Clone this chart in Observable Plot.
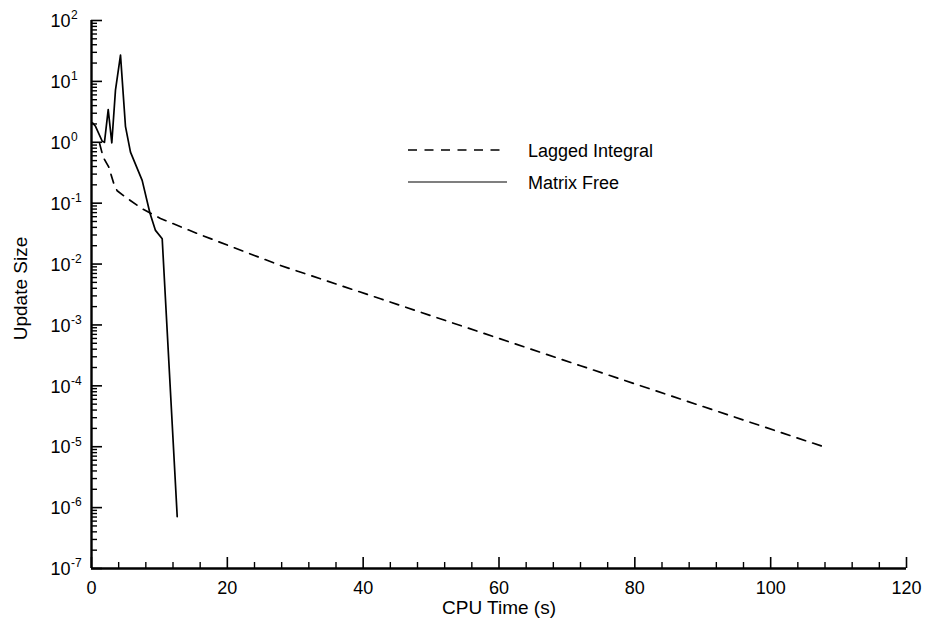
<!DOCTYPE html>
<html>
<head>
<meta charset="utf-8">
<script src="https://cdn.jsdelivr.net/npm/d3@7"></script>
<script src="https://cdn.jsdelivr.net/npm/@observablehq/plot@0.6"></script>
<style>
  html, body { margin: 0; padding: 0; background: #fff; }
  #chart { width: 926px; height: 625px; }
</style>
</head>
<body>
<div id="chart"></div>
<script>
// Convergence history: update size against CPU time for two solvers.
const lagTime = [1.2, 1.72, 2.55, 3.28, 3.78, 5.0, 7.46, 10.16, 13.35, 15.8, 27.8, 42.55, 72.0, 107.8];
const lagSize = [0.95, 0.57, 0.39, 0.21, 0.16, 0.126, 0.081, 0.056, 0.040, 0.031, 0.0095, 0.00269, 2.14e-4, 1.0e-5];

const mfTime = [0.15, 0.59, 1.58, 1.91, 2.46, 2.99, 3.53, 4.27, 5.0, 5.74, 7.46, 8.6, 9.42, 10.41, 12.62];
const mfSize = [2.08, 1.83, 1.04, 1.0, 3.43, 0.98, 7.2, 27, 1.83, 0.69, 0.237, 0.069, 0.0357, 0.026, 7.1e-7];

const seriesNames = ["Lagged Integral", "Matrix Free"];

// Axis ticks
const xMajor = [0, 20, 40, 60, 80, 100, 120];
const xMinor = d3.range(0, 121, 4).filter(v => v % 20 !== 0);
const yExponents = [-7, -6, -5, -4, -3, -2, -1, 0, 1, 2];
const yMajor = yExponents.map(e => Math.pow(10, e));
const yMinor = yExponents.slice(0, -1).flatMap(e => d3.range(2, 10).map(m => m * Math.pow(10, e)));

const lagged = lagTime.map((t, i) => ({t, v: lagSize[i]}));
const matrixFree = mfTime.map((t, i) => ({t, v: mfSize[i]}));

const W = 926, H = 625;
const mL = 91, mR = 20, mT = 20, mB = 57;
const innerW = W - mL - mR, innerH = H - mT - mB;
const font = "'Liberation Sans', Arial, Helvetica, sans-serif";

const chart = Plot.plot({
  width: W,
  height: H,
  marginLeft: mL,
  marginRight: mR,
  marginTop: mT,
  marginBottom: mB,
  style: {fontFamily: font, background: "#fff", color: "#000", overflow: "visible"},
  x: {domain: [0, 120], axis: null},
  y: {type: "log", domain: [1e-7, 1e2], axis: null},
  marks: [
    // inward-pointing ticks
    Plot.tickY(yMinor, {y: d => d, insetRight: innerW - 6, strokeWidth: 1.4}),
    Plot.tickY(yMajor, {y: d => d, insetRight: innerW - 11, strokeWidth: 1.6}),
    Plot.tickX(xMinor, {x: d => d, insetTop: innerH - 6, strokeWidth: 1.4}),
    Plot.tickX(xMajor, {x: d => d, insetTop: innerH - 11, strokeWidth: 1.6}),
    // axis lines
    Plot.ruleX([0], {strokeWidth: 2.4}),
    Plot.ruleY([1e-7], {strokeWidth: 2.4}),
    // x tick labels
    Plot.text(xMajor, {x: d => d, text: d => String(d), frameAnchor: "bottom", lineAnchor: "middle", dy: 20, fontSize: 18}),
    // y tick labels: 10 with a raised exponent
    Plot.text(yExponents, {y: e => Math.pow(10, e), text: () => "10", frameAnchor: "left", textAnchor: "end", lineAnchor: "middle", dx: -21, dy: 1, fontSize: 18}),
    Plot.text(yExponents, {y: e => Math.pow(10, e), text: e => String(e), frameAnchor: "left", textAnchor: "start", lineAnchor: "middle", dx: -20.5, dy: -5, fontSize: 12}),
    // axis titles
    Plot.text(["CPU Time (s)"], {frameAnchor: "bottom", textAnchor: "middle", lineAnchor: "middle", dy: 39, fontSize: 19}),
    Plot.text(["Update Size"], {frameAnchor: "left", textAnchor: "middle", lineAnchor: "middle", dx: -71, dy: -6, rotate: -90, fontSize: 19}),
    // series
    Plot.line(lagged, {x: "t", y: "v", stroke: "#000", strokeWidth: 1.7, strokeDasharray: "9,7.5"}),
    Plot.line(matrixFree, {x: "t", y: "v", stroke: "#000", strokeWidth: 1.7})
  ]
});

// Legend inside the plot area
const svg = d3.select(chart);
const legend = svg.append("g")
  .attr("font-family", font)
  .attr("font-size", 18)
  .attr("text-anchor", "start")
  .attr("fill", "#000");
const legendRows = [
  {name: seriesNames[0], dash: "9,7.5", y: 150},
  {name: seriesNames[1], dash: null, y: 182}
];
legendRows.forEach(r => {
  legend.append("line")
    .attr("x1", 408).attr("x2", 507)
    .attr("y1", r.y).attr("y2", r.y)
    .attr("stroke", "#000")
    .attr("stroke-width", r.dash ? 1.6 : 1.2)
    .attr("stroke-dasharray", r.dash);
  legend.append("text")
    .attr("x", 528).attr("y", r.y + 1)
    .attr("dy", "0.35em")
    .attr("text-anchor", "start")
    .text(r.name);
});

document.getElementById("chart").appendChild(chart);
</script>
</body>
</html>
